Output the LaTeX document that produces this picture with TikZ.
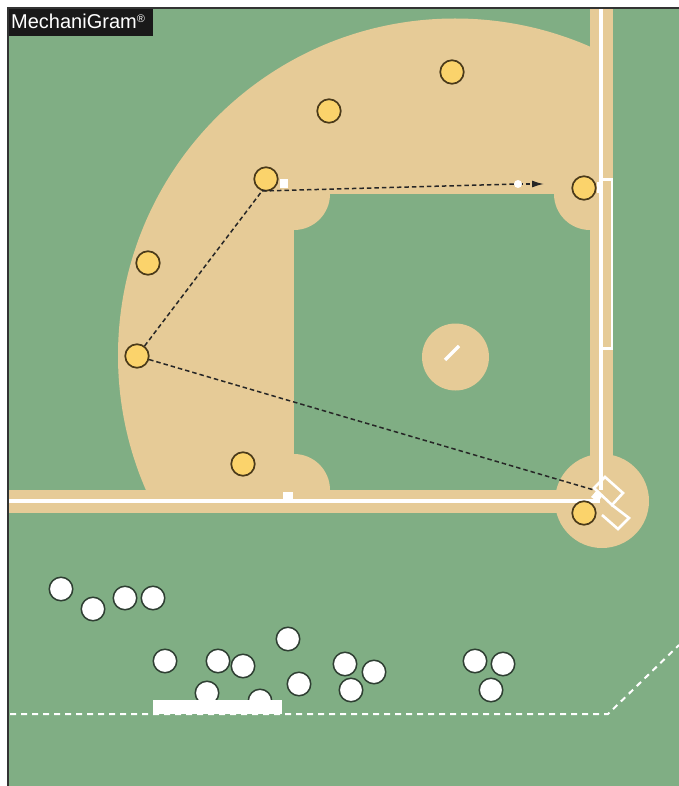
\documentclass[tikz,border=0pt]{standalone}
\usepackage{fontspec}
\setmainfont{Liberation Sans}
\usetikzlibrary{arrows.meta}
\definecolor{turf}{HTML}{80AE84}
\definecolor{dirt}{HTML}{E6CB97}
\definecolor{gold}{HTML}{FBD36B}
\definecolor{rim}{HTML}{4A3A1A}
\definecolor{rimg}{HTML}{2F3F33}
\tikzset{
 player/.style={circle,draw=rim,line width=1.7pt,fill=gold,minimum size=23.5pt,inner sep=0pt},
 ball/.style={circle,draw=rimg,line width=1.5pt,fill=white,minimum size=23.5pt,inner sep=0pt},
 chalk/.style={draw=white,line width=3.2pt},
 thinchalk/.style={draw=white,line width=2.6pt},
 pathline/.style={draw=black!85,line width=1.5pt,dash pattern=on 4.5pt off 3pt},
 base/.style={fill=white}
}
\begin{document}
\begin{tikzpicture}[x=1pt,y=-1pt]
\useasboundingbox (0,0) rectangle (679,786);
\fill[white] (0,0) rectangle (679,786);
\fill[turf] (8,8) rectangle (679,786);
% outfield dirt
\begin{scope}
\clip (8,8) rectangle (590,490);
\fill[dirt] (455,355.5) circle[radius=337];
\end{scope}
% infield grass
\fill[turf] (294,194) rectangle (590,490);
\begin{scope}
\clip (294,194) rectangle (590,490);
\fill[dirt] (294,194) circle[radius=36];
\fill[dirt] (590,194) circle[radius=36];
\fill[dirt] (294,490) circle[radius=36];
\end{scope}
% base paths
\fill[dirt] (8,490) rectangle (600,513);
\fill[dirt] (590,8) rectangle (613,500);
\fill[dirt] (602,501) circle[radius=47];
\fill[dirt] (455.5,357) circle[radius=33.5];
\draw[chalk] (445,360) -- (459,346);
% chalk lines
\draw[chalk] (8,501) -- (600,501);
\draw[chalk] (601,8) -- (601,490);
\draw[thinchalk] (601,179.5) -- (612,179.5) -- (612,348.5) -- (601,348.5);
% batter's boxes
\draw[thinchalk] (605,477) -- (623,493) -- (612,505) -- (594,488) -- cycle;
\draw[thinchalk] (612,505) -- (629,518) -- (618,529) -- (602,515);
% bases
\fill[base] (597,182) rectangle (603,193);
\fill[base] (283,492) rectangle (293,502);
\fill[base] (280,179) rectangle (288,188);
\fill[base] (597,490) -- (603,495) -- (598,502) -- (591,497) -- cycle;
% bench players (partly hidden by the white bar)
\foreach \n/\x/\y in {b1/61/589,b2/93/609,b3/125/598,b4/153/598,b5/165/661,b6/218/661,b7/243/666,b8/288/639,b9/299/684,b10/207/693,b11/260/701,b12/345/664,b13/374/672,b14/351/690,b15/475/661,b16/503/664,b17/491/690}
  \node[ball] (\n) at (\x,\y) {};
\fill[white] (153,700) rectangle (282,714);
\draw[draw=white,line width=2pt,dash pattern=on 6pt off 5pt] (10,714) -- (608,714) -- (679,645);
% fielders
\node[player] (p1) at (452,72) {};
\node[player] (p2) at (329,111) {};
\node[player] (p3) at (266,179) {};
\node[player] (p4) at (584,188) {};
\node[player] (p5) at (148,263) {};
\node[player] (p6) at (137,356) {};
\node[player] (p7) at (243,464) {};
\node[player] (p8) at (584,513) {};
% ball paths
\coordinate (turn) at (262,191);
\coordinate (homept) at (594,490);
\coordinate (tip) at (544,184);
\coordinate (dot) at (518,184);
\draw[pathline] (p6) -- (turn);
\draw[pathline] (turn) -- (dot);
\draw[pathline] (p6) -- (homept);
\draw[pathline,-{Latex[length=12pt,width=7pt]}] (dot) -- (tip);
\node[circle,fill=white,minimum size=8pt,inner sep=0pt] (ballpt) at (dot) {};
% logo and frame
\fill[black!90] (8,8) rectangle (153,36);
\node[text=white,font=\fontsize{20}{22}\selectfont,anchor=base west,inner sep=0pt] (logo) at (11,29) {MechaniGram\raisebox{6pt}{\fontsize{11}{11}\selectfont®}};
\draw[black!80,line width=1.4pt] (8,786) -- (8,8) -- (679,8);
\end{tikzpicture}
\end{document}
